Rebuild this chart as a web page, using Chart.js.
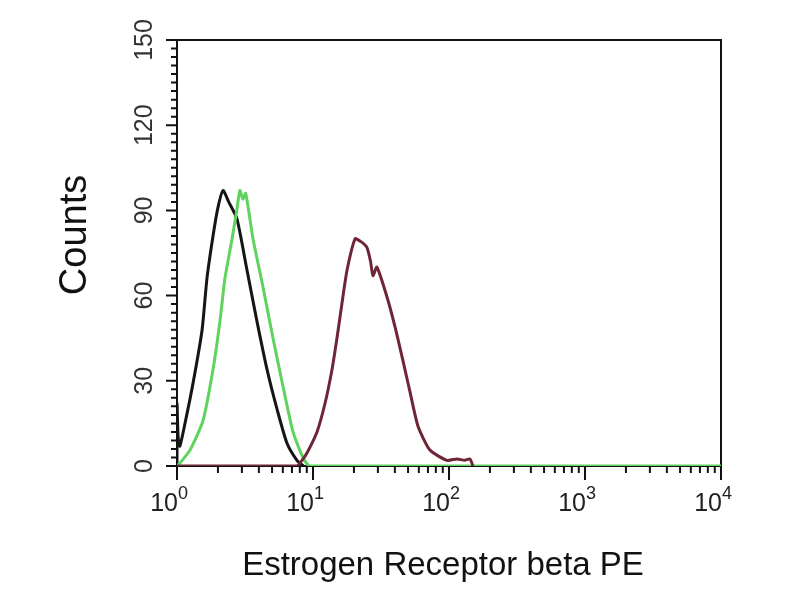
<!DOCTYPE html>
<html>
<head>
<meta charset="utf-8">
<script src="https://cdn.jsdelivr.net/npm/chart.js@4"></script>
<style>
  html, body { margin: 0; padding: 0; background: #fff; }
  canvas { display: block; }
</style>
</head>
<body>
<canvas id="histChart" width="800" height="600"></canvas>
<script>
// isotype control (black)
const blackX = [1, 1, 1.02, 1.05, 1.145, 1.31, 1.53, 1.66, 1.84, 2.0, 2.18, 2.4, 2.76, 3.27, 3.87, 4.59, 5.44, 6.44, 7.62, 8.5];
const blackY = [0, 22, 10, 7, 15, 29, 48, 66, 81, 91, 97, 93, 87, 69, 51, 34, 20, 8, 2, 0];

// unstained (green)
const greenX = [1, 1.05, 1.246, 1.553, 1.84, 2.07, 2.25, 2.54, 2.75, 2.9, 3.05, 3.2, 3.62, 4.29, 5.08, 6.02, 7.13, 8.44, 9.5, 10000];
const greenY = [0, 1, 5.6, 16, 34, 51, 66, 80, 90, 97, 94, 96, 80, 63, 45, 28, 12, 3, 0, 0];

// ER beta PE (red)
const redX = [1, 7.6, 8.3, 9.03, 10.7, 12.25, 13.8, 15.0, 16.3, 17.8, 20.4, 22.5, 24.9, 26.5, 27.6, 29.5, 35.0, 40.1, 45.9, 51.7, 59.2, 72.4, 96.7, 114.6, 130, 142.6, 150];
const redY = [0, 0, 2, 4.6, 12, 22, 34, 45, 57, 69, 80, 79, 77, 72, 67, 70, 59.5, 49, 37, 26, 14, 5.6, 2, 2.5, 2, 2.5, 0];

const xDecades = [1, 10, 100, 1000, 10000];
const xDecadeExp = ['0', '1', '2', '3', '4'];
const yTickValues = [0, 30, 60, 90, 120, 150];

const FONT = "'Liberation Sans', Arial, sans-serif";

function toPoints(xs, ys) {
  return xs.map((x, i) => ({ x: x, y: ys[i] }));
}

const axesPlugin = {
  id: 'facsAxes',
  beforeDatasetsDraw(chart) {
    const ctx = chart.ctx;
    const area = chart.chartArea;
    const xs = chart.scales.x;
    const ys = chart.scales.y;
    ctx.save();
    ctx.strokeStyle = '#111';

    // frame
    ctx.lineWidth = 2;
    ctx.strokeRect(area.left, area.top, area.right - area.left, area.bottom - area.top);

    // x ticks (log, minor 2..9)
    ctx.beginPath();
    xDecades.forEach((d, i) => {
      const px = xs.getPixelForValue(d);
      ctx.moveTo(px, area.bottom);
      ctx.lineTo(px, area.bottom + 14);
      if (i < xDecades.length - 1) {
        for (let m = 2; m <= 9; m++) {
          const mx = xs.getPixelForValue(d * m);
          ctx.moveTo(mx, area.bottom);
          ctx.lineTo(mx, area.bottom + 7);
        }
      }
    });
    ctx.stroke();

    // y ticks (minor every 3)
    ctx.beginPath();
    for (let v = 0; v <= 150; v += 3) {
      const py = ys.getPixelForValue(v);
      const len = v % 30 === 0 ? 11 : 6;
      ctx.moveTo(area.left, py);
      ctx.lineTo(area.left - len, py);
    }
    ctx.stroke();
    ctx.restore();
  },
  afterDraw(chart) {
    const ctx = chart.ctx;
    const xs = chart.scales.x;
    const ys = chart.scales.y;
    ctx.save();

    // y tick labels, rotated
    ctx.font = '25px ' + FONT;
    ctx.fillStyle = '#333';
    ctx.textAlign = 'center';
    ctx.textBaseline = 'middle';
    yTickValues.forEach(v => {
      const py = ys.getPixelForValue(v);
      ctx.save();
      ctx.translate(145, py);
      ctx.rotate(-Math.PI / 2);
      ctx.fillText(String(v), 0, 0);
      ctx.restore();
    });

    // x tick labels 10^n
    ctx.fillStyle = '#222';
    ctx.textBaseline = 'alphabetic';
    xDecades.forEach((d, i) => {
      const px = xs.getPixelForValue(d);
      ctx.font = '25px ' + FONT;
      ctx.textAlign = 'right';
      ctx.fillText('10', px + 1, 511);
      ctx.font = '18px ' + FONT;
      ctx.textAlign = 'left';
      ctx.fillText(xDecadeExp[i], px + 1, 499);
    });

    // axis titles
    ctx.fillStyle = '#111';
    ctx.font = '33px ' + FONT;
    ctx.textAlign = 'center';
    ctx.textBaseline = 'middle';
    ctx.fillText('Estrogen Receptor beta PE', 443, 566);

    ctx.save();
    ctx.translate(76, 235);
    ctx.rotate(-Math.PI / 2);
    ctx.font = '38px ' + FONT;
    ctx.fillText('Counts', 0, 0);
    ctx.restore();

    ctx.restore();
  }
};

new Chart(document.getElementById('histChart'), {
  type: 'line',
  data: {
    datasets: [
      {
        label: 'ER beta',
        data: toPoints(redX, redY),
        borderColor: '#6e2636',
        borderWidth: 3,
        pointRadius: 0,
        tension: 0.2,
        fill: false
      },
      {
        label: 'Unstained',
        data: toPoints(greenX, greenY),
        borderColor: '#5ed45e',
        borderWidth: 3,
        pointRadius: 0,
        tension: 0.2,
        fill: false
      },
      {
        label: 'Isotype',
        data: toPoints(blackX, blackY),
        borderColor: '#151515',
        borderWidth: 3,
        pointRadius: 0,
        tension: 0.2,
        fill: false
      }
    ]
  },
  options: {
    responsive: false,
    animation: false,
    layout: { padding: { left: 177, top: 40, right: 79, bottom: 134 } },
    plugins: { legend: { display: false }, tooltip: { enabled: false } },
    scales: {
      x: { type: 'logarithmic', min: 1, max: 10000, display: false },
      y: { type: 'linear', min: 0, max: 150, display: false }
    }
  },
  plugins: [axesPlugin]
});
</script>
</body>
</html>
